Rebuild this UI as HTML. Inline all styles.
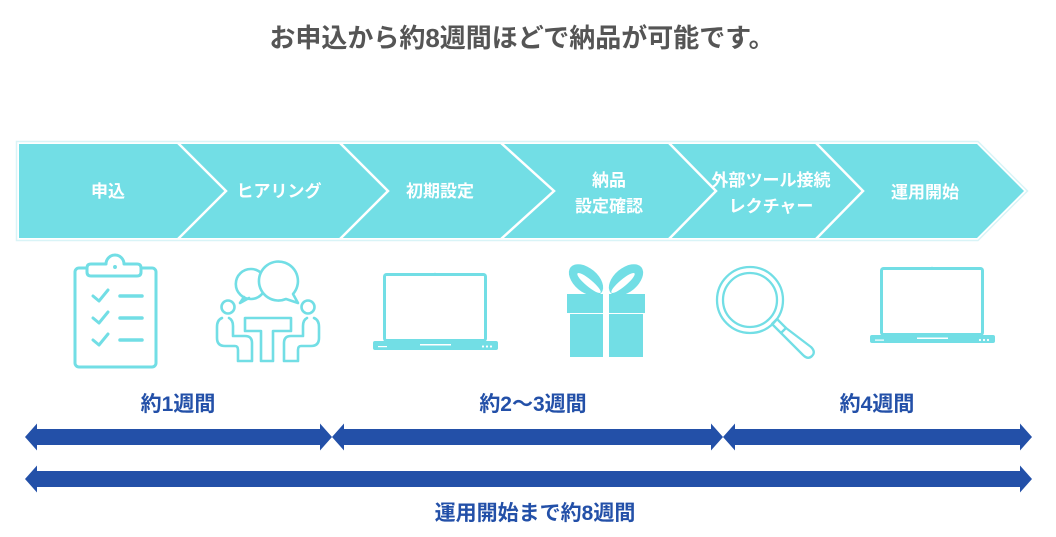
<!DOCTYPE html>
<html>
<head>
<meta charset="utf-8">
<style>
html,body{margin:0;padding:0;background:#fff;}
body{width:1056px;height:537px;overflow:hidden;}
svg{display:block;}
.t{font-family:"Liberation Sans","Noto Sans CJK JP",sans-serif;font-weight:bold;}
</style>
</head>
<body>
<svg width="1056" height="537" viewBox="0 0 1056 537" xmlns="http://www.w3.org/2000/svg">
  <!-- Title -->
  <text class="t" x="522" y="47" font-size="26" fill="#555555" text-anchor="middle">お申込から約8週間ほどで納品が可能です。</text>

  <!-- Banner outer light outline -->
  <polygon points="16.5,141.5 978,141.5 1027.5,191 978,240.5 16.5,240.5" fill="#ffffff" stroke="#d9f4f7" stroke-width="1.5"/>
  <!-- Banner fill -->
  <polygon points="19,144 977,144 1024,191 977,238 19,238" fill="#72dee5"/>
  <!-- chevron separators -->
  <g fill="none" stroke="#ffffff" stroke-width="2.5">
    <polyline points="178,143 226,191 178,239"/>
    <polyline points="340,143 388,191 340,239"/>
    <polyline points="501,143 554,191 501,239"/>
    <polyline points="669,143 716,191 669,239"/>
    <polyline points="816,143 863,191 816,239"/>
  </g>
  <!-- banner labels -->
  <g class="t" font-size="17" fill="#ffffff" text-anchor="middle">
    <text x="108" y="197">申込</text>
    <text x="279" y="197">ヒアリング</text>
    <text x="440" y="197">初期設定</text>
    <text x="609" y="186">納品</text>
    <text x="609" y="212">設定確認</text>
    <text x="771" y="186">外部ツール接続</text>
    <text x="771" y="212">レクチャー</text>
    <text x="925" y="198">運用開始</text>
  </g>

  <!-- Icons -->
  <g fill="none" stroke="#72dee5" stroke-width="3" stroke-linecap="round" stroke-linejoin="round">
    <!-- Clipboard -->
    <rect x="75" y="268" width="81" height="99" rx="4"/>
    <path d="M91,264 L106,264 A9,9 0 0 1 124,264 L137,264 Q141,264 141,268 L141,272 Q141,276 137,276 L91,276 Q87,276 87,272 L87,268 Q87,264 91,264 Z" fill="#ffffff"/>
    <circle cx="115" cy="267" r="1.2" fill="#72dee5" stroke-width="1.5"/>
    <polyline points="93,296 99,301 108,290"/>
    <polyline points="93,318 99,323 108,312"/>
    <polyline points="93,340 99,345 108,334"/>
    <line x1="120" y1="296" x2="142" y2="296" stroke-width="3.5"/>
    <line x1="120" y1="318" x2="142" y2="318" stroke-width="3.5"/>
    <line x1="120" y1="340" x2="142" y2="340" stroke-width="3.5"/>

    <!-- Meeting icon -->
    <!-- left bubble (partially behind right) -->
    <path d="M262,294 A15,15 0 1 1 262,274" stroke-width="2.6"/>
    <path d="M244,297 L240,303 L249,298" stroke-width="2.6"/>
    <!-- right bubble -->
    <path d="M293,294 A19.5,19.5 0 1 0 286,299 L298,303 Z" stroke-width="2.6" fill="#ffffff"/>
    <circle cx="228" cy="307" r="6.5" stroke-width="2.6"/>
    <circle cx="308" cy="307" r="6.5" stroke-width="2.6"/>
    <path d="M245,318 L291,318 L291,331 L273,331 L273,361 L261,361 L261,331 L245,331 Z" stroke-width="2.6"/>
    <path d="M222,318 Q217,320 217,327 L217,338 Q217,346 225,346 L235,346 Q238,346 238,350 L238,361 L252,361 L252,343 Q252,336 245,336 L233,336 L233,326 Q233,320 229,318" stroke-width="2.6"/>
    <path d="M314,318 Q319,320 319,327 L319,338 Q319,346 311,346 L301,346 Q298,346 298,350 L298,361 L284,361 L284,343 Q284,336 291,336 L303,336 L303,326 Q303,320 307,318" stroke-width="2.6"/>

    <!-- Laptop 1 screen -->
    <rect x="384.5" y="274.5" width="101" height="66" rx="2"/>
    <!-- Laptop 2 screen -->
    <rect x="881.5" y="268.5" width="101" height="66" rx="2"/>

    <!-- Magnifier -->
    <circle cx="750" cy="300" r="33" stroke-width="2.3"/>
    <circle cx="750" cy="300" r="27" stroke-width="2.3"/>
    <path d="M772,324 L777,319 L786,328 L781,333 Z" stroke-width="2.3"/>
    <path d="M781,333 L803,355 Q808,360 812,356 Q816,352 811,347 L786,328" stroke-width="2.3"/>
  </g>

  <!-- Laptop bases -->
  <g fill="#72dee5">
    <rect x="373" y="341" width="125" height="9" rx="2"/>
    <rect x="870" y="335" width="125" height="8" rx="2"/>
    <circle cx="435" cy="274" r="1.3"/>
    <circle cx="932" cy="268" r="1.3"/>
  </g>
  <g fill="#ffffff">
    <rect x="420" y="344" width="31" height="1.5"/>
    <rect x="378" y="346" width="9" height="1.2"/>
    <circle cx="483" cy="346.5" r="1.1"/><circle cx="487" cy="346.5" r="1.1"/><circle cx="491" cy="346.5" r="1.1"/>
    <rect x="917" y="337.5" width="31" height="1.5"/>
    <rect x="875" y="339.5" width="9" height="1.2"/>
    <circle cx="980" cy="340" r="1.1"/><circle cx="984" cy="340" r="1.1"/><circle cx="988" cy="340" r="1.1"/>
  </g>

  <!-- Gift -->
  <g fill="#72dee5">
    <ellipse cx="586" cy="280" rx="20" ry="12" transform="rotate(40 586 280)"/>
    <ellipse cx="626" cy="280" rx="20" ry="12" transform="rotate(-40 626 280)"/>
    <rect x="567" y="294" width="36" height="19"/>
    <rect x="609" y="294" width="36" height="19"/>
    <rect x="570" y="314" width="33" height="43"/>
    <rect x="609" y="314" width="34" height="43"/>
  </g>
  <g fill="#ffffff">
    <ellipse cx="589" cy="283" rx="15" ry="3.5" transform="rotate(40 589 283)"/>
    <ellipse cx="623" cy="283" rx="15" ry="3.5" transform="rotate(-40 623 283)"/>
    <rect x="603" y="290" width="6" height="68"/>
  </g>

  <!-- Arrows -->
  <g fill="#2350a8">
    <polygon points="25,437 37,423.5 37,429 320,429 320,423.5 332,437 320,450.5 320,445 37,445 37,450.5"/>
    <polygon points="332,437 344,423.5 344,429 711,429 711,423.5 723,437 711,450.5 711,445 344,445 344,450.5"/>
    <polygon points="723,437 735,423.5 735,429 1020,429 1020,423.5 1032,437 1020,450.5 1020,445 735,445 735,450.5"/>
    <polygon points="25,479 37,465.5 37,471 1020,471 1020,465.5 1032,479 1020,492.5 1020,487 37,487 37,492.5"/>
  </g>

  <!-- Duration labels -->
  <g class="t" font-size="21" fill="#2350a8" text-anchor="middle">
    <text x="178" y="411">約1週間</text>
    <text x="533" y="411">約2〜3週間</text>
    <text x="877" y="411">約4週間</text>
    <text x="535" y="520">運用開始まで約8週間</text>
  </g>
</svg>
</body>
</html>
